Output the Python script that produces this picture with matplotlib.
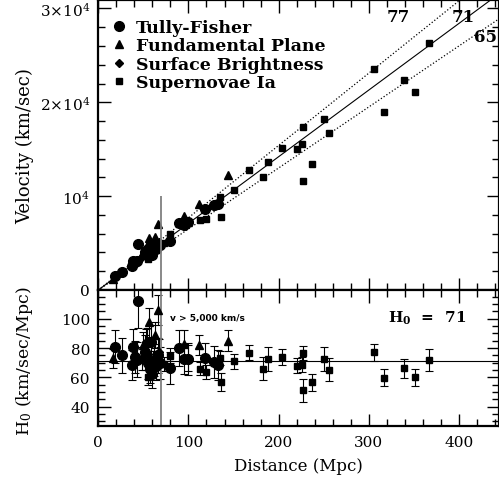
import matplotlib.pyplot as plt
import numpy as np
from matplotlib.ticker import MultipleLocator, FixedLocator

plt.rcParams['font.family'] = 'DejaVu Serif'
plt.rcParams['mathtext.fontset'] = 'dejavuserif'

# Tully-Fisher clusters: distance (Mpc), velocity (km/s), H0, H0 error
tf_d = [18.6, 26, 37, 38.5, 41, 43, 44.4, 52, 55, 57, 58, 60, 62, 64, 66, 68, 79, 89, 95, 100, 118, 128, 133]
tf_v = [1507, 1950, 2535, 3119, 3034, 3096, 4900, 4004, 3850, 3762, 4872, 3720, 4464, 4352, 4950, 4760, 5254, 7120, 6888, 7250, 8673, 9024, 9110]
tf_h = [81, 75, 68.5, 81, 74, 72, 112, 77, 70, 66, 84, 62, 72, 68, 75, 70, 66.5, 80, 72.5, 72.5, 73.5, 70.5, 68.5]
tf_e = [11, 12, 10, 12, 11, 12, 18, 12, 11, 10, 12, 9, 11, 10, 12, 11, 11, 12, 10, 11, 10, 11, 10]

# Fundamental plane clusters
fp_d = [16, 50, 53.7, 56.7, 63, 66.7, 94.9, 112, 144]
fp_v = [1168, 4100, 4565, 5528, 5607, 7070, 7877, 9184, 12240]
fp_h = [73, 82, 85, 97.5, 89, 106, 83, 82, 85]
fp_e = [6.5, 9, 9, 10, 9, 10, 9, 7, 7]

# Surface brightness fluctuations
sb_d = [48, 53, 55, 61, 67, 100]
sb_v = [3504, 4452, 4180, 4270, 5159, 7300]
sb_h = [73, 84, 76, 70, 77, 73]
sb_e = [8, 9, 8, 8, 9, 9]

# Type Ia supernovae
sn_d = [54.9, 73, 79.7, 113, 119.3, 135.4, 136, 150, 166.7, 182.6, 188.6, 204.1, 220.4, 226.3,
        227.1, 227.1, 237.1, 250.8, 256.3, 306.3, 317.1, 338.6, 351.5, 366.7]
sn_v = [3294, 5037, 5954, 7458, 7587, 9911, 7752, 10650, 12803, 12052, 13674, 15103, 14987, 15547,
        17396, 11605, 13396, 18208, 16711, 23585, 18963, 22381, 21090, 26329]
sn_h = [60, 69, 74.7, 66, 63.6, 73.2, 57, 71, 76.8, 66, 72.5, 74, 68, 68.7,
        76.6, 51.1, 56.5, 72.6, 65.2, 77, 59.8, 66.1, 60, 71.8]
sn_e = [5, 5, 5, 4.5, 4.5, 5, 6, 5, 5, 7.7, 8, 5.4, 5, 5,
        5, 7.7, 5.7, 8, 8, 5.7, 5.6, 6.3, 6, 7.4]

h0_fit = 71
h0_bounds = [77, 65]
cut_d = 70
cut_v = 1e4

fig = plt.figure(figsize=(4.99, 4.85), dpi=100)
ax1 = fig.add_axes([0.197, 0.4, 0.804, 0.598])
ax2 = fig.add_axes([0.197, 0.119, 0.804, 0.281])

# upper panel: Hubble diagram
ax1.plot(tf_d, tf_v, 'o', color='k', ms=7, label='Tully-Fisher')
ax1.plot(fp_d, fp_v, '^', color='k', ms=6, label='Fundamental Plane')
ax1.plot(sb_d, sb_v, 'D', color='k', ms=4.5, label='Surface Brightness')
ax1.plot(sn_d, sn_v, 's', color='k', ms=5, label='Supernovae Ia')

d_line = np.array([0, 500])
ax1.plot(d_line, h0_fit * d_line, '-', color='k', lw=0.8)
for h in h0_bounds:
    ax1.plot(d_line, h * d_line, ':', color='k', lw=0.9)
ax1.vlines(cut_d, 0, cut_v, color='gray', lw=1.3)

ax1.text(333, 29110, '77', fontsize=12, fontweight='bold', ha='center', va='center')
ax1.text(405, 29110, '71', fontsize=12, fontweight='bold', ha='center', va='center')
ax1.text(429, 26970, '65', fontsize=12, fontweight='bold', ha='center', va='center')

ax1.set_xlim(0, 445)
ax1.set_ylim(0, 30900)
ax1.xaxis.set_major_locator(MultipleLocator(100))
ax1.xaxis.set_minor_locator(MultipleLocator(20))
ax1.yaxis.set_major_locator(FixedLocator([0, 1e4, 2e4, 3e4]))
ax1.yaxis.set_minor_locator(MultipleLocator(2000))
ax1.set_yticklabels(['0', r'$10^4$', r'$2{\times}10^4$', r'$3{\times}10^4$'])
ax1.tick_params(which='both', direction='in', top=True, right=True, labelbottom=False,
                labelsize=11, pad=6)
ax1.tick_params(which='major', length=9, width=1)
ax1.tick_params(which='minor', length=5, width=1)

leg = ax1.legend(loc='upper left', bbox_to_anchor=(-0.01, 1.0), frameon=False,
                 prop={'weight': 'bold', 'size': 12.5},
                 handlelength=0.7, handletextpad=0.6, labelspacing=0.08,
                 borderaxespad=0.5, borderpad=0.6)

# lower panel: H0 vs distance
kw = dict(color='k', capsize=3, elinewidth=0.8, capthick=0.8, ls='none')
ax2.errorbar(tf_d, tf_h, yerr=tf_e, fmt='o', ms=7, **kw)
ax2.errorbar(fp_d, fp_h, yerr=fp_e, fmt='^', ms=6, **kw)
ax2.errorbar(sb_d, sb_h, yerr=sb_e, fmt='D', ms=4.5, **kw)
ax2.errorbar(sn_d, sn_h, yerr=sn_e, fmt='s', ms=5, **kw)
ax2.axhline(h0_fit, color='k', lw=0.8)
ax2.axvline(cut_d, color='gray', lw=1.3)

ax2.text(80, 100.5, 'v > 5,000 km/s', fontsize=6.5, fontweight='bold',
         family='DejaVu Sans', ha='left', va='center')
ax2.text(321, 101, r'$\mathbf{H_0}$  =  71', fontsize=11, fontweight='bold',
         ha='left', va='center')

ax2.set_xlim(0, 445)
ax2.set_ylim(26.6, 119.6)
ax2.xaxis.set_major_locator(MultipleLocator(100))
ax2.xaxis.set_minor_locator(MultipleLocator(20))
ax2.yaxis.set_major_locator(FixedLocator([40, 60, 80, 100]))
ax2.yaxis.set_minor_locator(MultipleLocator(5))
ax2.tick_params(which='both', direction='in', top=True, right=True, labelsize=11, pad=6)
ax2.tick_params(which='major', length=9, width=1)
ax2.tick_params(which='minor', length=5, width=1)

for ax in (ax1, ax2):
    for s in ax.spines.values():
        s.set_linewidth(1.6)

ax2.set_xlabel('Distance (Mpc)', fontsize=12, labelpad=6)
fig.text(0.05, 0.699, 'Velocity (km/sec)', rotation=90, fontsize=13, ha='center', va='center')
fig.text(0.05, 0.255, r'H$_0$ (km/sec/Mpc)', rotation=90, fontsize=12.5, ha='center', va='center')

fig.savefig('out.png', dpi=100)
